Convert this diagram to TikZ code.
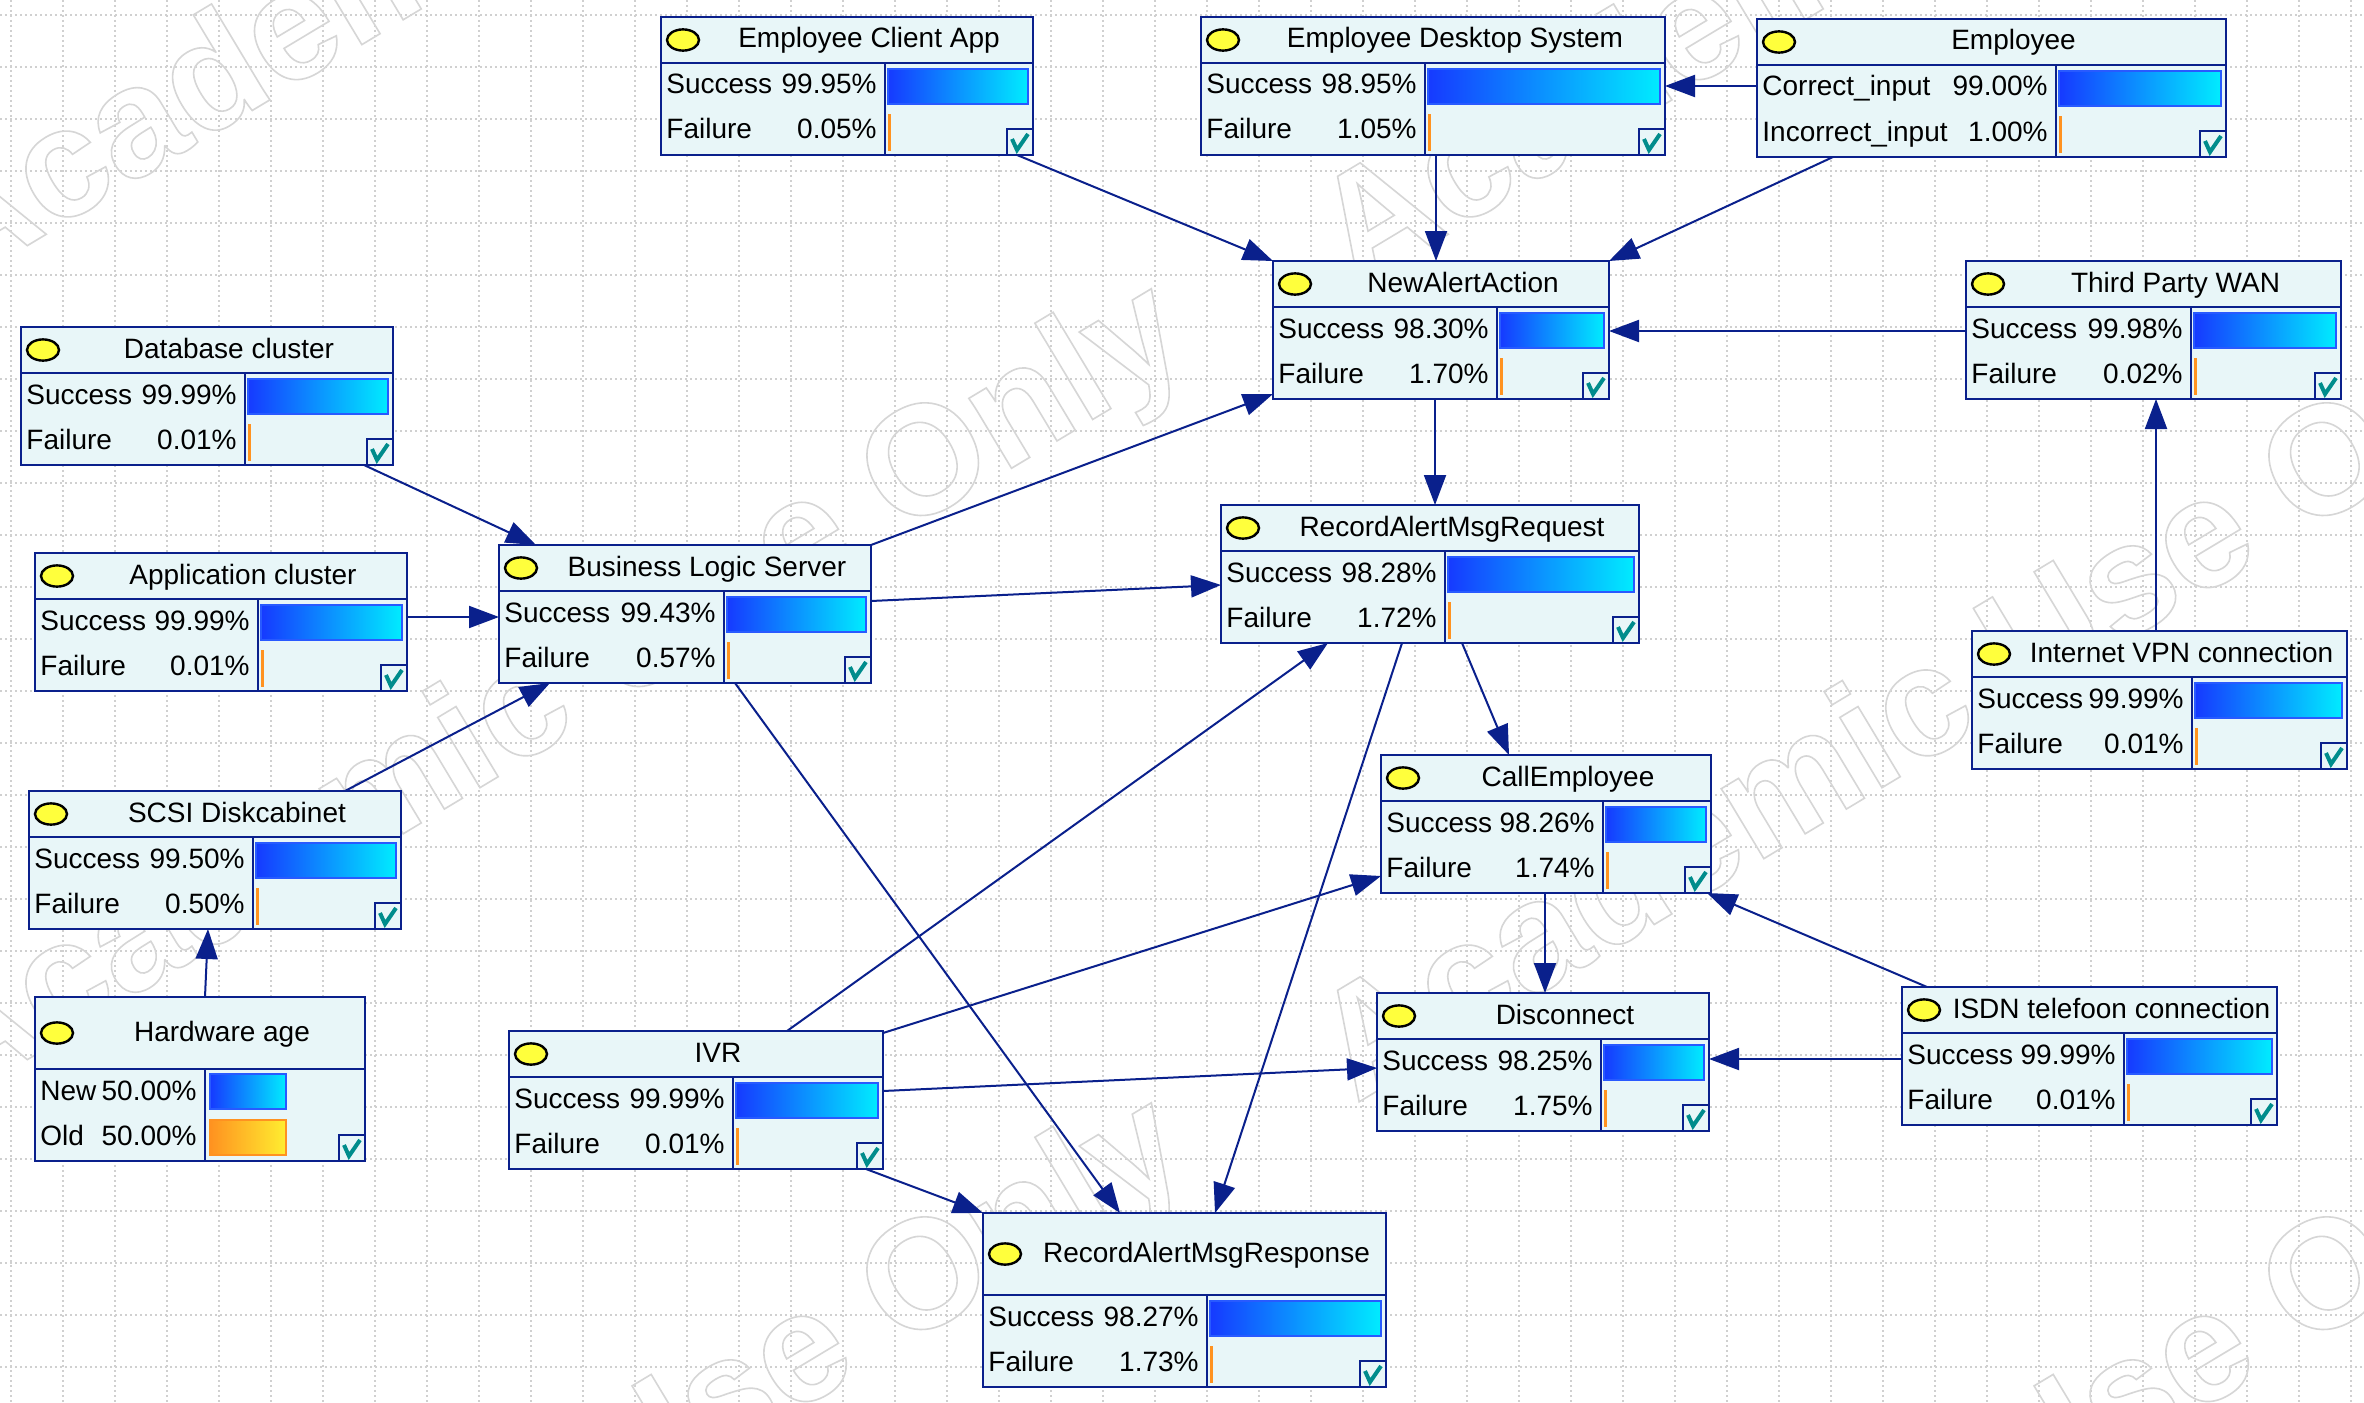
\documentclass[tikz,border=0pt]{standalone}
\usepackage{fontspec}
\setmainfont{Liberation Sans}
\usetikzlibrary{arrows.meta,calc}

\definecolor{navy}{RGB}{10,32,140}
\definecolor{nodebg}{RGB}{232,246,248}
\definecolor{barblueL}{RGB}{22,58,255}
\definecolor{barblueR}{RGB}{0,236,255}
\definecolor{barframe}{RGB}{40,90,255}
\definecolor{barorL}{RGB}{255,146,32}
\definecolor{barorR}{RGB}{255,238,48}
\definecolor{okteal}{RGB}{0,140,140}
\definecolor{gridgray}{RGB}{208,208,208}
\definecolor{markgray}{RGB}{214,214,214}
\definecolor{lamp}{RGB}{255,255,60}

\newcommand\bodyfont{\fontsize{14}{16}\selectfont}
\newcommand\wmfont{\fontsize{77.5}{80}\selectfont\bfseries}
% stroke the glyph outlines instead of filling them
\newcommand\outlinedtext[1]{\special{pdf:literal direct 1 Tr 0.8 w}#1\special{pdf:literal direct 0 Tr}}

\begin{document}
\begin{tikzpicture}[x=0.5pt,y=-0.5pt,
  gridline/.style={gridgray,line width=0.6pt,dash pattern=on 1pt off 1.5pt},
  wmark/.style={anchor=base west,rotate=31,inner sep=0pt,font=\wmfont,text=markgray},
  bnbox/.style={draw=navy,line width=1.1pt,fill=nodebg,rectangle,inner sep=0pt,outer sep=0pt,anchor=north west},
  edge/.style={draw=navy,line width=1.1pt},
  lampst/.style={draw=black,line width=1.2pt,fill=lamp},
  txt/.style={inner sep=0pt,font=\bodyfont,text=black},
  bluebar/.style={draw=barframe,line width=0.8pt,left color=barblueL,right color=barblueR},
  orangebar/.style={draw=barorL,line width=0.8pt,left color=barorL,right color=barorR},
  tick/.style={draw=okteal,line width=2pt,line join=miter},
  link/.style={draw=navy,line width=1pt,-{Triangle[length=15pt,width=11pt]}}
]
\useasboundingbox (0,0) rectangle (2364,1402);
\fill[white] (0,0) rectangle (2364,1402);

% dotted background grid
\foreach \i in {0,...,45}
  \draw[gridline] ({11+52*\i},0) -- ({11+52*\i},1402);
\foreach \j in {0,...,26}
  \draw[gridline] (0,{15+52*\j}) -- (2364,{15+52*\j});

% outlined watermark tiles
\foreach \px/\py [count=\k] in {-46.5/290, 1355.5/290, -46.5/1104, 1355.5/1104, -46.5/1918, 1355.5/1918}
  \node[wmark] (wm\k) at (\px,\py) {\outlinedtext{Academic Use Only}};

% belief nodes: name / left / top / width / title height / column split / bar kind / title / states
\foreach \n/\x/\y/\w/\hh/\dv/\bk/\ttl/\la/\pa/\lb/\pb in {
 eca/661/17/372/46/224/1/Employee Client App/Success/99.95/Failure/0.05,
 eds/1201/17/464/46/224/1/Employee Desktop System/Success/98.95/Failure/1.05,
 emp/1757/19/469/46/299/1/Employee/Correct\_input/99.00/Incorrect\_input/1.00,
 naa/1273/261/336/46/224/1/NewAlertAction/Success/98.30/Failure/1.70,
 tpw/1966/261/375/46/225/1/Third Party WAN/Success/99.98/Failure/0.02,
 db/21/327/372/46/224/1/Database cluster/Success/99.99/Failure/0.01,
 app/35/553/372/46/223/1/Application cluster/Success/99.99/Failure/0.01,
 bls/499/545/372/46/225/1/Business Logic Server/Success/99.43/Failure/0.57,
 req/1221/505/418/46/224/1/RecordAlertMsgRequest/Success/98.28/Failure/1.72,
 vpn/1972/631/375/46/220/1/Internet VPN connection/Success/99.99/Failure/0.01,
 call/1381/755/330/46/222/1/CallEmployee/Success/98.26/Failure/1.74,
 scsi/29/791/372/46/224/1/SCSI Diskcabinet/Success/99.50/Failure/0.50,
 hw/35/997/330/72/170/2/Hardware age/New/50.00/Old/50.00,
 ivr/509/1031/374/46/224/1/IVR/Success/99.99/Failure/0.01,
 dis/1377/993/332/46/224/1/Disconnect/Success/98.25/Failure/1.75,
 isdn/1902/987/375/46/222/1/ISDN telefoon connection/Success/99.99/Failure/0.01,
 resp/983/1213/403/82/224/1/RecordAlertMsgResponse/Success/98.27/Failure/1.73}{
  \node[bnbox,minimum width={\w*0.5pt},minimum height={(\hh+92)*0.5pt}] (\n) at (\x,\y) {};
  \draw[edge] (\x,{\y+\hh}) -- ({\x+\w},{\y+\hh});
  \draw[edge] ({\x+\dv},{\y+\hh}) -- ({\x+\dv},{\y+\hh+92});
  \draw[lampst] ({\x+22},{\y+\hh/2}) ellipse [x radius=8pt,y radius=5.3pt];
  \node[txt,anchor=base] at ({\x+22+\w/2},{\y+\hh/2+8}) {\ttl};
  \node[txt,anchor=base west] at ({\x+5},{\y+\hh+31}) {\la};
  \node[txt,anchor=base east] at ({\x+\dv-8},{\y+\hh+31}) {\pa\%};
  \node[txt,anchor=base west] at ({\x+5},{\y+\hh+76}) {\lb};
  \node[txt,anchor=base east] at ({\x+\dv-8},{\y+\hh+76}) {\pb\%};
  \ifnum\bk=1
    \draw[bluebar] ({\x+\dv+3},{\y+\hh+6}) rectangle ({\x+\w-5},{\y+\hh+41});
    \fill[barorL] ({\x+\dv+3},{\y+\hh+51}) rectangle ({\x+\dv+6},{\y+\hh+88});
  \else
    \draw[bluebar] ({\x+\dv+5},{\y+\hh+5}) rectangle ({\x+\dv+81},{\y+\hh+40});
    \draw[orangebar] ({\x+\dv+5},{\y+\hh+51}) rectangle ({\x+\dv+81},{\y+\hh+86});
  \fi
  \draw[edge,fill=nodebg] ({\x+\w-26},{\y+\hh+66}) rectangle ({\x+\w},{\y+\hh+92});
  \draw[tick] ({\x+\w-21},{\y+\hh+76}) -- ({\x+\w-16},{\y+\hh+87}) -- ({\x+\w-5},{\y+\hh+71});
}

% dependencies
\draw[link] ($(eca.south west)+(356,0)$) -- (naa.north west);
\draw[link] ($(eds.south west)+(235,0)$) -- ($(naa.north west)+(163,0)$);
\draw[link] ($(emp.north west)+(0,67)$) -- ($(eds.north east)+(0,69)$);
\draw[link] ($(emp.south west)+(76,0)$) -- (naa.north east);
\draw[link] ($(tpw.north west)+(0,70)$) -- ($(naa.north east)+(0,70)$);
\draw[link] ($(naa.south west)+(162,0)$) -- ($(req.north west)+(214,0)$);
\draw[link] ($(db.south west)+(343,0)$) -- ($(bls.north west)+(37,0)$);
\draw[link] ($(app.north east)+(0,64)$) -- ($(bls.north west)+(0,72)$);
\draw[link] ($(scsi.north west)+(316,0)$) -- ($(bls.south west)+(51,0)$);
\draw[link] (bls.north east) -- ($(naa.south west)+(0,-5)$);
\draw[link] ($(bls.north east)+(0,56)$) -- ($(req.north west)+(0,80)$);
\draw[link] ($(bls.south west)+(236,0)$) -- ($(resp.north west)+(137,0)$);
\draw[link] ($(hw.north west)+(170,0)$) -- ($(scsi.south west)+(179,0)$);
\draw[link] ($(ivr.north west)+(278,0)$) -- ($(req.south west)+(107,0)$);
\draw[link] ($(ivr.north east)+(0,2)$) -- ($(call.north west)+(0,121)$);
\draw[link] ($(ivr.north east)+(0,60)$) -- ($(dis.north west)+(0,75)$);
\draw[link] ($(ivr.south west)+(357,0)$) -- (resp.north west);
\draw[link] ($(req.south west)+(241,0)$) -- ($(call.north west)+(128,0)$);
\draw[link] ($(req.south west)+(181,0)$) -- ($(resp.north west)+(232,0)$);
\draw[link] ($(call.south west)+(164,0)$) -- ($(dis.north west)+(168,0)$);
\draw[link] ($(isdn.north west)+(25,0)$) -- ($(call.south east)+(-4,0)$);
\draw[link] ($(isdn.north west)+(0,72)$) -- ($(dis.north east)+(0,66)$);
\draw[link] ($(vpn.north west)+(184,0)$) -- ($(tpw.south west)+(190,0)$);
\end{tikzpicture}
\end{document}
